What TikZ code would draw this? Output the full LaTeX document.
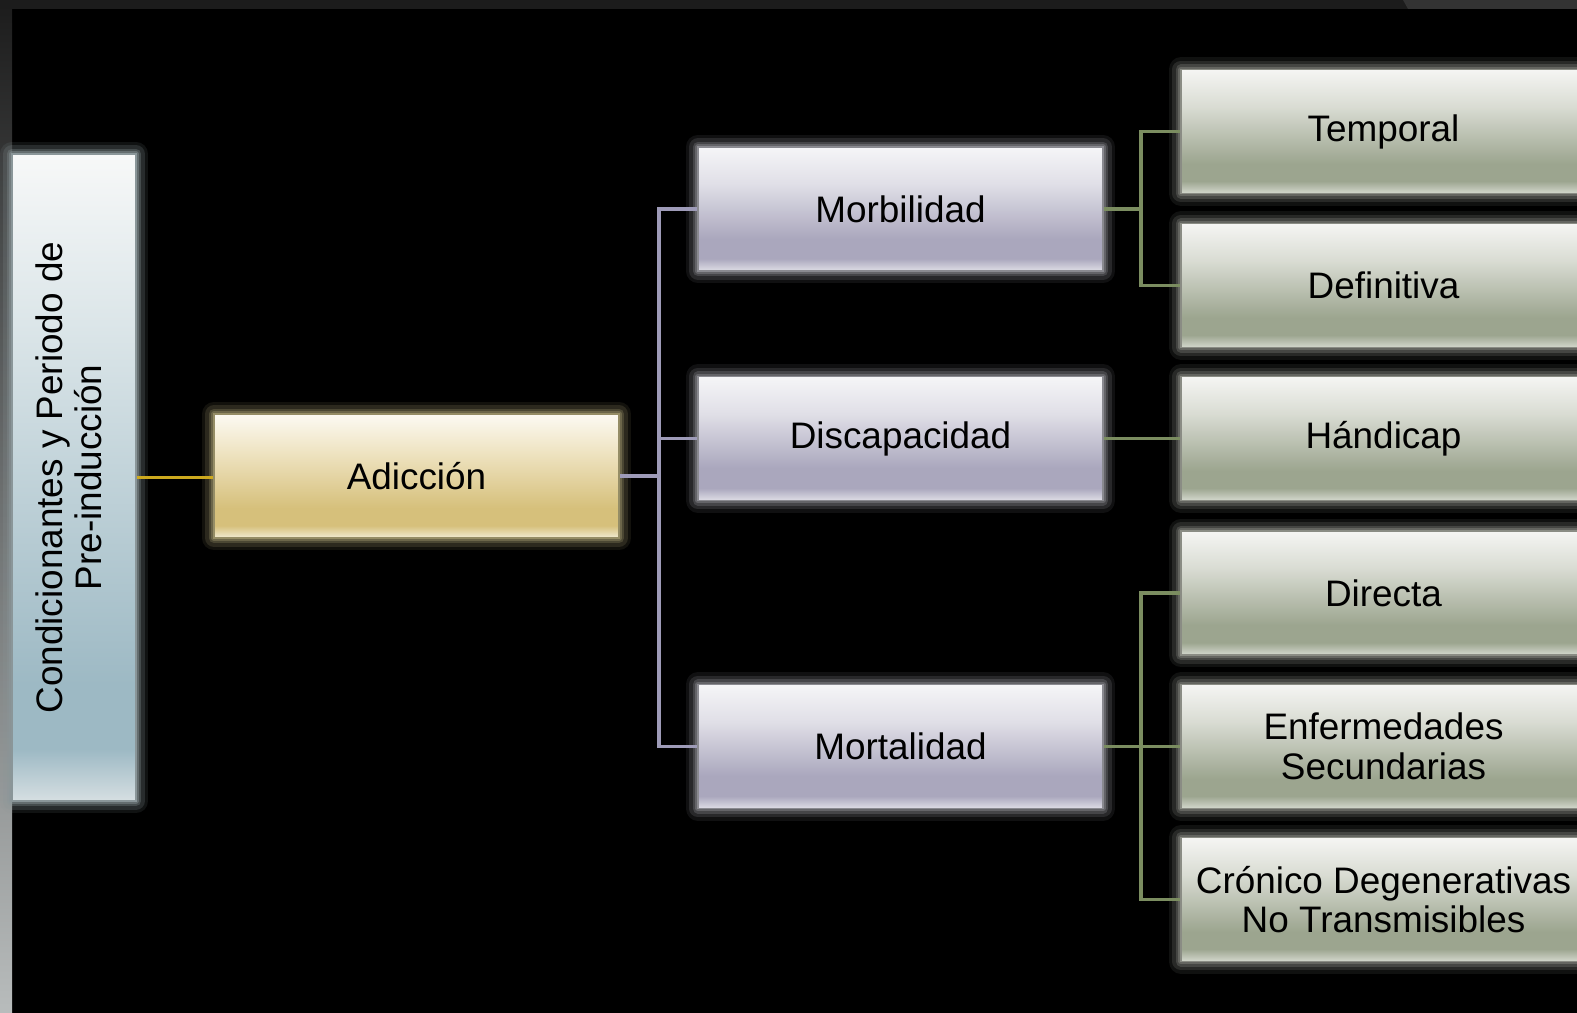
\documentclass[tikz,border=0pt]{standalone}
\usepackage{fontspec}
\setmainfont{Liberation Sans}
\usepackage{xcolor}
\usepackage{tikz}

\definecolor{marco}{HTML}{1C1C1C}
\definecolor{marcob}{HTML}{333333}
\definecolor{marcoc}{HTML}{5A5C5C}
\definecolor{marcod}{HTML}{B8BCBC}

\definecolor{azA}{HTML}{F7F8F8}
\definecolor{azB}{HTML}{DCE6E9}
\definecolor{azC}{HTML}{9DB9C4}
\definecolor{azD}{HTML}{D6DFE2}
\definecolor{azG}{HTML}{8A9699}

\definecolor{orA}{HTML}{FCFAF3}
\definecolor{orB}{HTML}{EFE4C3}
\definecolor{orC}{HTML}{D6C07B}
\definecolor{orD}{HTML}{F1EBD3}
\definecolor{orG}{HTML}{958D66}

\definecolor{liA}{HTML}{F5F5F7}
\definecolor{liB}{HTML}{E0DFE7}
\definecolor{liC}{HTML}{AAA7BD}
\definecolor{liD}{HTML}{DFDEE6}
\definecolor{liG}{HTML}{8A8A90}

\definecolor{veA}{HTML}{F5F5F3}
\definecolor{veB}{HTML}{D9DCD3}
\definecolor{veC}{HTML}{9CA58F}
\definecolor{veD}{HTML}{D4D8CE}
\definecolor{veG}{HTML}{8A8C84}

\definecolor{lineaOr}{HTML}{CDA91E}
\definecolor{lineaLi}{HTML}{9E9BB8}
\definecolor{lineaVe}{HTML}{7B8D60}

\pgfdeclareverticalshading{celeste}{100bp}{color(0bp)=(azD); color(25bp)=(azD); color(29bp)=(azC); color(34bp)=(azC); color(62bp)=(azB); color(75bp)=(azA); color(100bp)=(azA)}
\pgfdeclareverticalshading{dorado}{100bp}{color(0bp)=(orD); color(25bp)=(orD); color(30bp)=(orC); color(37bp)=(orC); color(60bp)=(orB); color(75bp)=(orA); color(100bp)=(orA)}
\pgfdeclareverticalshading{lila}{100bp}{color(0bp)=(liD); color(25bp)=(liD); color(30bp)=(liC); color(38bp)=(liC); color(60bp)=(liB); color(75bp)=(liA); color(100bp)=(liA)}
\pgfdeclareverticalshading{verde}{100bp}{color(0bp)=(veD); color(25bp)=(veD); color(30bp)=(veC); color(37bp)=(veC); color(60bp)=(veB); color(75bp)=(veA); color(100bp)=(veA)}

\tikzset{
  brillo/.style={preaction={draw=#1, line width=14pt, line join=round, opacity=.12},
                 preaction={draw=#1, line width=10pt, line join=round, opacity=.2},
                 preaction={draw=#1, line width=6pt, line join=round, opacity=.3},
                 preaction={draw=#1, line width=3pt, line join=round, opacity=.45}},
  caja/.style={rectangle, draw=#1, line width=.8pt, brillo=#1,
               minimum width=8.1cm, minimum height=2.48cm, inner sep=2pt,
               align=center, text=black, font=\fontsize{21}{22.5}\selectfont},
  cajaAdic/.style={caja=orG, shade, shading=dorado},
  cajaLila/.style={caja=liG, shade, shading=lila},
  cajaVerde/.style={caja=veG, shade, shading=verde},
  cajaAzul/.style={caja=azG, shade, shading=celeste, minimum width=2.48cm, minimum height=12.94cm},
  lineaA/.style={draw=lineaOr, line width=2pt},
  lineaB/.style={draw=lineaLi, line width=2pt},
  lineaC/.style={draw=lineaVe, line width=2pt}
}

\begin{document}
\begin{tikzpicture}[x=0.02cm, y=-0.02cm]
\useasboundingbox (0,0) rectangle (1577,1013);
\clip (0,0) rectangle (1577,1013);
\fill[black] (0,0) rectangle (1577,1013);
\shade[top color=marco, middle color=marcoc, bottom color=marcod] (0,0) rectangle (12,1013);
\fill[marco] (0,0) rectangle (1577,9);
\fill[marcob] (1403,0) -- (1577,0) -- (1577,9) -- (1408,9) -- cycle;

\node[cajaAzul] (cond) at (74,477.5) {\rotatebox{90}{\begin{tabular}{@{}c@{}}Condicionantes y Periodo de\\Pre-inducción\end{tabular}}};
\node[cajaAdic] (adic) at (416.5,476) {Adicción};

\node[cajaLila] (morb) at (900.5,209) {Morbilidad};
\node[cajaLila] (disc) at (900.5,438.5) {Discapacidad};
\node[cajaLila] (mort) at (900.5,746.5) {Mortalidad};

\node[cajaVerde] (temp) at (1383.5,131.5) {Temporal};
\node[cajaVerde] (defi) at (1383.5,285.5) {Definitiva};
\node[cajaVerde] (hand) at (1383.5,438.5) {Hándicap};
\node[cajaVerde] (dire) at (1383.5,593) {Directa};
\node[cajaVerde] (enfe) at (1383.5,746.5) {Enfermedades\\Secundarias};
\node[cajaVerde] (cron) at (1383.5,899.5) {Crónico Degenerativas\\No Transmisibles};

\coordinate (busA) at (659,476);
\coordinate (busB) at (1141,0);

\draw[lineaA] (cond.east) -- (cond.east -| adic.west);

\draw[lineaB] (adic.east) -- (busA);
\draw[lineaB] (morb.west) -| (busA) |- (mort.west);
\draw[lineaB] (busA |- disc.west) -- (disc.west);

\draw[lineaC] (morb.east) -- (morb.east -| busB);
\draw[lineaC] (temp.west) -| (busB |- morb.east) |- (defi.west);
\draw[lineaC] (disc.east) -- (hand.west);
\draw[lineaC] (mort.east) -- (enfe.west);
\draw[lineaC] (dire.west) -| (busB |- mort.east) |- (cron.west);
\end{tikzpicture}
\end{document}
